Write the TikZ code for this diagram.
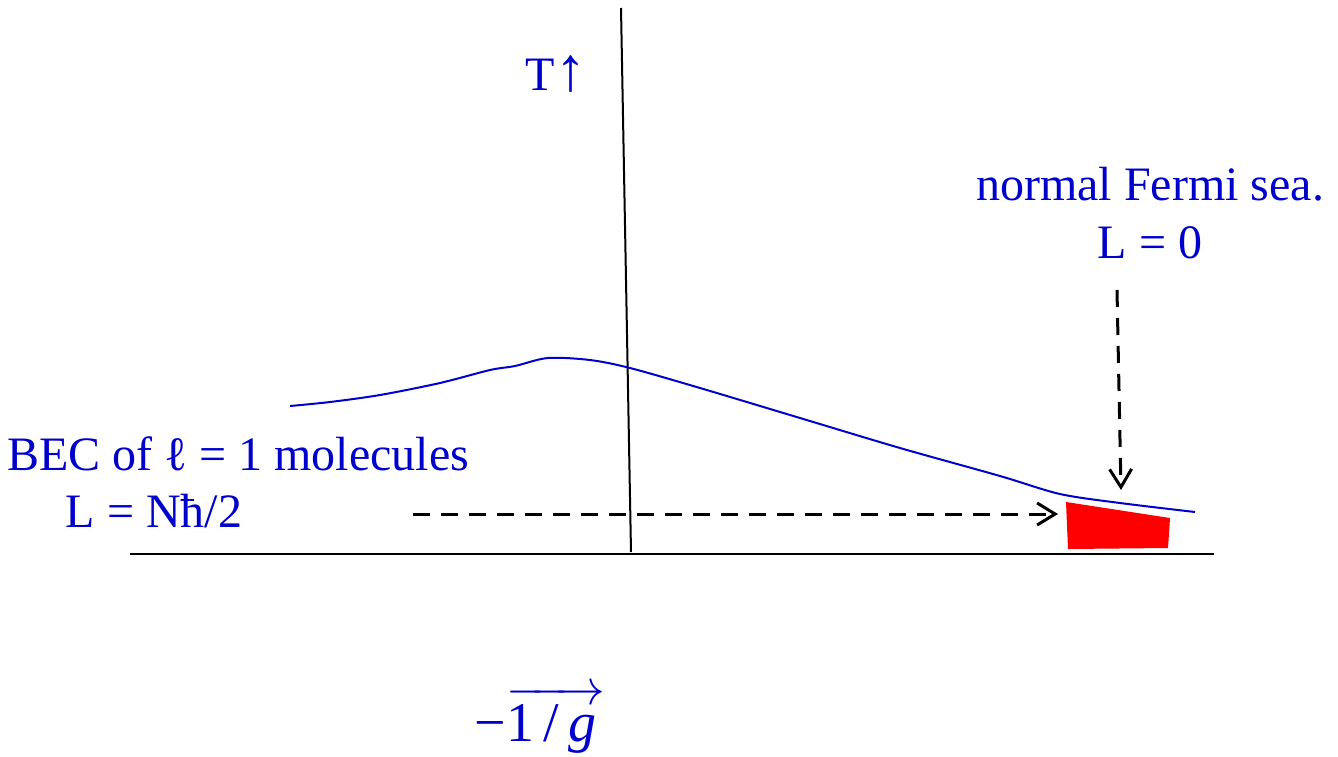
\documentclass[tikz,border=0pt]{standalone}
\usepackage{amsmath}
\usepackage{fontspec}
\setmainfont{Liberation Serif}
\usepackage{tikz}
\usetikzlibrary{arrows.meta}
\definecolor{pdBlue}{HTML}{0000CC}
\definecolor{pdRed}{HTML}{FF0000}
\tikzset{
  pd diagram/.style={x=0.5pt, y=-0.5pt, line join=round},
  pd label/.style={text=pdBlue, font=\fontsize{24}{29}\selectfont, inner sep=0pt},
  pd axis/.style={draw=black, line width=1pt},
  pd curve/.style={draw=pdBlue, line width=1pt},
  pd arrow/.style={-{Straight Barb[length=9pt,width=11pt]}, draw=black,
    line width=1.5pt, dash pattern=on 8.5pt off 5.5pt},
  pd region/.style={fill=pdRed, draw=none}
}

\begin{document}
\begin{tikzpicture}[pd diagram]
\useasboundingbox (0,0) rectangle (1338,756);
% axes
\coordinate (tTop) at (621,8);
\coordinate (tBot) at (631,552);
\coordinate (gLeft) at (130,554);
\coordinate (gRight) at (1214,554);
\draw[pd axis] (tTop) -- (tBot);
\draw[pd axis] (gLeft) -- (gRight);
\node[pd label, anchor=base] (tlabel) at (556,90) {T{\fontsize{31}{36}\selectfont ↑}};
\node[pd label, font=\fontsize{28}{34}\selectfont, anchor=base] (gaxis) at (540,741)
  {−$\overrightarrow{\text{1\,/\,\textit{g}\,}}$};
% transition line
\draw[pd curve] plot[smooth, tension=0.5] coordinates {(290,406) (330,402) (380,395)
  (440,383) (490,370) (515,366) (548,358) (590,360) (630,368) (700,388) (800,418)
  (900,448) (1000,476) (1060,494) (1120,503) (1195,512)};
\fill[pd region] (1066,502) -- (1170,518) -- (1168,548) -- (1068,549) -- cycle;
% labels
\node[pd label, anchor=base] (fermi) at (1150,200) {normal Fermi sea.};
\node[pd label, anchor=base] (lzero) at (1150,258) {L = 0};
\node[pd label, anchor=base] (bec) at (238,470) {BEC of ℓ = 1 molecules};
\node[pd label, anchor=base] (lbec) at (154,527) {L = Nħ/2};
\coordinate (fermiTail) at (1117,290);
\coordinate (fermiTip) at (1121,490);
\coordinate (becTail) at (413,514);
\coordinate (becTip) at (1058,514);
\draw[pd arrow] (fermiTail) -- (fermiTip);
\draw[pd arrow] (becTail) -- (becTip);
\end{tikzpicture}
\end{document}
